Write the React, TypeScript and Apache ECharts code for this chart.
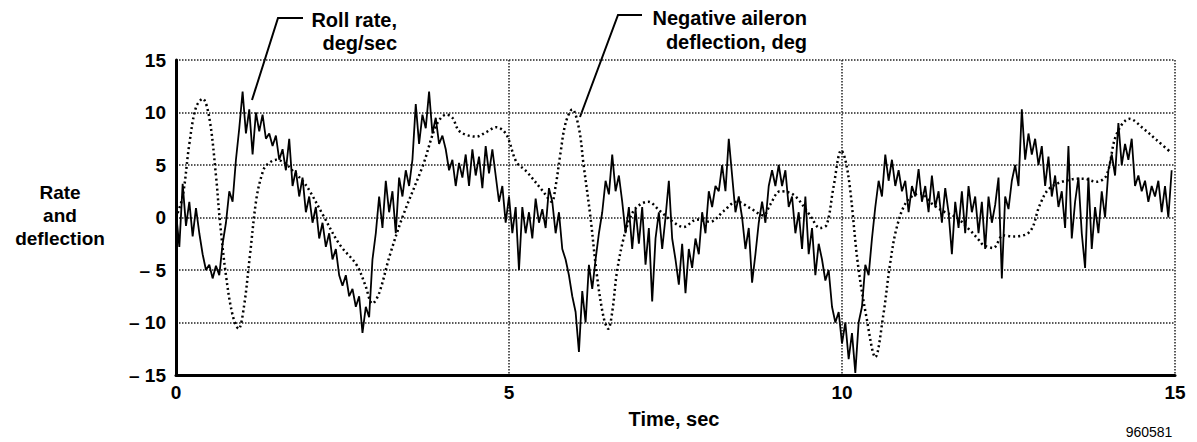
import React, { useEffect, useRef } from "react";
import * as echarts from "echarts";

// Roll rate, deg/sec — sampled every 0.05 s from t = 0 to 14.95 s
const ROLL_STEP = 0.05;
const rollRate: number[] = [
  // 0.00 – 0.95
  0.5, -2.8, 3.2, -0.8, 1.5, -1.8, 0.9, -1.5, -3.5, -5.0, -4.5, -5.8, -4.6, -5.5, -2.5, -0.5, 2.5, 1.5, 5.5, 8.5,
  // 1.00 – 1.95
  12.0, 8.0, 10.3, 6.0, 10.0, 8.2, 9.8, 7.5, 8.0, 6.8, 7.8, 5.5, 6.5, 4.5, 7.5, 3.0, 4.5, 2.0, 3.8, 0.5,
  // 2.00 – 2.95
  2.0, -0.5, 1.0, -2.0, -0.5, -2.8, -1.5, -4.0, -3.0, -5.5, -6.5, -5.5, -7.5, -6.8, -8.5, -7.5, -11.0, -8.5, -9.5, -4.0,
  // 3.00 – 3.95
  -1.5, 2.0, -1.0, 3.5, 0.5, 2.5, -1.5, 3.8, 2.0, 4.5, 3.0, 5.5, 10.8, 7.0, 9.8, 8.5, 12.0, 8.0, 9.5, 7.0,
  // 4.00 – 4.95
  7.8, 6.5, 4.5, 5.5, 3.0, 5.2, 3.8, 6.0, 3.0, 6.5, 4.0, 5.8, 2.8, 6.8, 4.2, 6.5, 4.0, 1.5, 3.0, -0.5,
  // 5.00 – 5.95
  2.0, -1.5, 1.0, -5.0, 1.0, -1.5, 0.5, -2.0, 1.8, -0.5, 0.8, -1.0, 2.8, 1.5, -1.5, 0.5, -3.0, -4.0, -5.5, -7.5,
  // 6.00 – 6.95
  -9.0, -12.8, -7.0, -10.0, -4.5, -6.8, -4.0, -1.5, 0.5, 3.5, 2.2, 6.0, 2.5, 4.0, 1.5, -1.5, 1.0, -3.0, 0.8, -2.5,
  // 7.00 – 7.95
  1.0, -4.5, -1.0, -8.0, -2.0, 0.5, -3.0, 0.0, 3.5, -2.0, -4.0, -6.4, -2.5, -7.2, -3.0, -4.8, -2.0, -3.5, 0.5, -1.5,
  // 8.00 – 8.95
  2.5, 1.0, 3.0, 2.5, 5.0, 2.5, 7.5, 4.0, 0.5, 2.0, 0.0, -3.0, -1.0, -6.2, -3.5, -0.5, 1.5, -0.5, 3.0, 4.5,
  // 9.00 – 9.95
  3.0, 5.0, 3.0, 4.5, 1.0, 2.0, -1.5, 0.5, -3.0, 2.0, -3.5, -1.0, -5.5, -2.5, -4.0, -6.0, -5.0, -8.5, -10.0, -9.0,
  // 10.00 – 10.95
  -12.0, -10.0, -13.5, -11.0, -14.8, -10.0, -8.5, -4.5, -5.5, -2.0, 1.0, 3.5, 2.0, 6.0, 3.5, 5.5, 3.0, 4.5, 2.5, 3.5,
  // 11.00 – 11.95
  0.5, 3.0, 2.0, 4.6, 1.5, 3.0, 0.5, 4.0, 1.0, 2.5, -0.5, 2.8, 0.5, -3.5, 1.5, -1.0, 2.5, -1.5, 3.0, 0.5,
  // 12.00 – 12.95
  2.0, -1.5, 1.5, -3.0, 2.0, -0.5, 1.2, 3.8, -5.8, 2.0, 0.8, 3.5, 5.0, 3.0, 10.3, 5.5, 8.0, 6.0, 7.5, 5.0,
  // 13.00 – 13.95
  6.8, 3.0, 5.8, 2.0, 4.0, 1.0, 2.5, -1.0, 6.8, -2.0, 1.5, 3.8, -1.5, -4.8, 3.8, -3.0, 1.0, -1.5, 2.5, 0.0,
  // 14.00 – 14.95
  4.5, 6.0, 4.0, 9.0, 5.0, 7.0, 5.5, 7.5, 3.0, 4.0, 2.5, 3.5, 1.5, 3.0, 2.0, 3.5, 0.5, 3.0, 0.0, 4.5,
];

// Negative aileron deflection, deg
const aileronTime: number[] = [
  0, 0.1, 0.2, 0.3, 0.4, 0.5, 0.6, 0.66, 0.75, 0.85, 0.94, 1.02, 1.11, 1.21, 1.3, 1.36, 1.51, 1.65, 1.76, 1.9,
  2.01, 2.21, 2.46, 2.71, 2.84, 2.95, 3.05, 3.21, 3.41, 3.71, 3.91, 4.06, 4.15, 4.26, 4.51, 4.65, 4.81, 4.96,
  5.11, 5.26, 5.51, 5.64, 5.7, 5.77, 5.85, 5.95, 6.05, 6.12, 6.22, 6.32, 6.42, 6.49, 6.55, 6.62, 6.72, 6.82,
  6.92, 7.09, 7.27, 7.46, 7.62, 7.82, 8.02, 8.22, 8.42, 8.62, 8.82, 8.92, 9.07, 9.2, 9.32, 9.52, 9.67, 9.77,
  9.87, 9.99, 10.05, 10.12, 10.24, 10.37, 10.5, 10.62, 10.72, 10.82, 10.97, 11.17, 11.37, 11.52, 11.72, 11.92,
  12.05, 12.12, 12.27, 12.42, 12.57, 12.82, 12.97, 13.12, 13.42, 13.62, 13.82, 13.97, 14.12, 14.32, 14.52,
  14.72, 14.92,
];
const aileronValue: number[] = [
  0.0, 2.0, 7.0, 10.5, 11.3, 9.5, 4.0, -0.4, -5.5, -9.3, -10.6, -8.5, -3.6, 1.9, 4.3, 5.0, 5.5, 5.1, 4.4, 3.5,
  2.5, 0.2, -2.6, -4.5, -6.4, -8.2, -7.2, -3.6, 0.2, 5.0, 8.8, 9.8, 9.5, 8.2, 7.7, 8.1, 8.6, 7.9,
  5.3, 4.4, 2.5, 1.5, 3.0, 6.0, 9.0, 10.3, 8.5, 5.0, 0.2, -5.5, -9.5, -10.6, -9.0, -5.2, -2.0, 0.0,
  1.0, 1.5, 0.6, -0.4, -0.9, -0.2, -0.4, 0.6, 1.5, 0.9, 0.2, 1.2, 2.5, 2.4, 1.9, 0.2, -1.0, -0.7,
  2.8, 6.4, 5.5, 2.8, -4.5, -9.6, -13.3, -9.3, -4.5, -1.0, 1.5, 2.3, 1.2, 0.6, 0.0, -1.2,
  -2.1, -2.6, -2.9, -1.7, -1.8, -1.35, 1.2, 2.8, 3.6, 3.7, 3.4, 4.0, 7.9, 9.4, 8.5,
  7.4, 6.3,
];

const X_MIN = 0;
const X_MAX = 15;
const X_INTERVAL = 5;
const Y_MIN = -15;
const Y_MAX = 15;
const Y_INTERVAL = 5;

const FONT = '"Liberation Sans", Arial, Helvetica, sans-serif';

export default function App() {
  const ref = useRef<HTMLDivElement>(null);

  useEffect(() => {
    if (!ref.current) return;
    const chart = echarts.init(ref.current, undefined, { renderer: "svg" });

    const gridLine = {
      show: true,
      lineStyle: { color: "#222", width: 1.5, type: [1.5, 1.5] as any },
    };

    const option: any = {
      animation: false,
      backgroundColor: "#fff",
      grid: { left: 176, right: 22, top: 60, bottom: 67, containLabel: false },
      xAxis: {
        type: "value",
        min: X_MIN,
        max: X_MAX,
        interval: X_INTERVAL,
        axisLine: { show: true, onZero: false, lineStyle: { color: "#000", width: 3 } },
        axisTick: { show: false },
        axisLabel: {
          color: "#000",
          fontSize: 19,
          fontWeight: "bold",
          fontFamily: FONT,
          margin: 8,
        },
        splitLine: gridLine,
      },
      yAxis: {
        type: "value",
        min: Y_MIN,
        max: Y_MAX,
        interval: Y_INTERVAL,
        axisLine: { show: true, onZero: false, lineStyle: { color: "#000", width: 3 } },
        axisTick: { show: false },
        axisLabel: {
          color: "#000",
          fontSize: 19,
          fontWeight: "bold",
          fontFamily: FONT,
          margin: 10,
          formatter: (v: number) => (v < 0 ? "– " + Math.abs(v) : String(v)),
        },
        splitLine: gridLine,
      },
      series: [
        {
          name: "Roll rate, deg/sec",
          type: "line",
          data: rollRate.map((v, i) => [i * ROLL_STEP, v]),
          showSymbol: false,
          symbol: "none",
          lineStyle: { color: "#000", width: 1.8 },
          z: 3,
        },
        {
          name: "Negative aileron deflection, deg",
          type: "line",
          data: aileronTime.map((t, i) => [t, aileronValue[i]]),
          showSymbol: false,
          symbol: "none",
          smooth: 0.35,
          lineStyle: { color: "#000", width: 2.5, type: [2, 3] },
          z: 4,
        },
      ],
      graphic: [
        {
          type: "text",
          x: 60,
          y: 215,
          style: {
            text: "Rate\nand\ndeflection",
            font: `bold 19px ${FONT}`,
            fill: "#000",
            textAlign: "center",
            textVerticalAlign: "middle",
            lineHeight: 23,
          },
        },
        {
          type: "text",
          x: 674,
          y: 419,
          style: {
            text: "Time, sec",
            font: `bold 20px ${FONT}`,
            fill: "#000",
            textAlign: "center",
            textVerticalAlign: "middle",
          },
        },
        {
          type: "text",
          x: 1149,
          y: 432,
          style: {
            text: "960581",
            font: `14px ${FONT}`,
            fill: "#000",
            textAlign: "center",
            textVerticalAlign: "middle",
          },
        },
        {
          type: "text",
          x: 397,
          y: 31,
          style: {
            text: "Roll rate,\ndeg/sec",
            font: `bold 20px ${FONT}`,
            fill: "#000",
            textAlign: "right",
            textVerticalAlign: "middle",
            lineHeight: 23,
          },
        },
        {
          type: "text",
          x: 807,
          y: 30,
          style: {
            text: "Negative aileron\ndeflection, deg",
            font: `bold 20px ${FONT}`,
            fill: "#000",
            textAlign: "right",
            textVerticalAlign: "middle",
            lineHeight: 24,
          },
        },
        {
          type: "polyline",
          shape: { points: [[303, 18], [278, 18], [252, 100]] },
          style: { stroke: "#000", lineWidth: 2, fill: null },
        },
        {
          type: "polyline",
          shape: { points: [[642, 15], [618, 15], [580, 117]] },
          style: { stroke: "#000", lineWidth: 2, fill: null },
        },
      ],
    };

    chart.setOption(option);
    return () => chart.dispose();
  }, []);

  return (
    <div
      ref={ref}
      style={{ position: "fixed", left: 0, top: 0, width: 1197, height: 442, background: "#fff" }}
    />
  );
}
